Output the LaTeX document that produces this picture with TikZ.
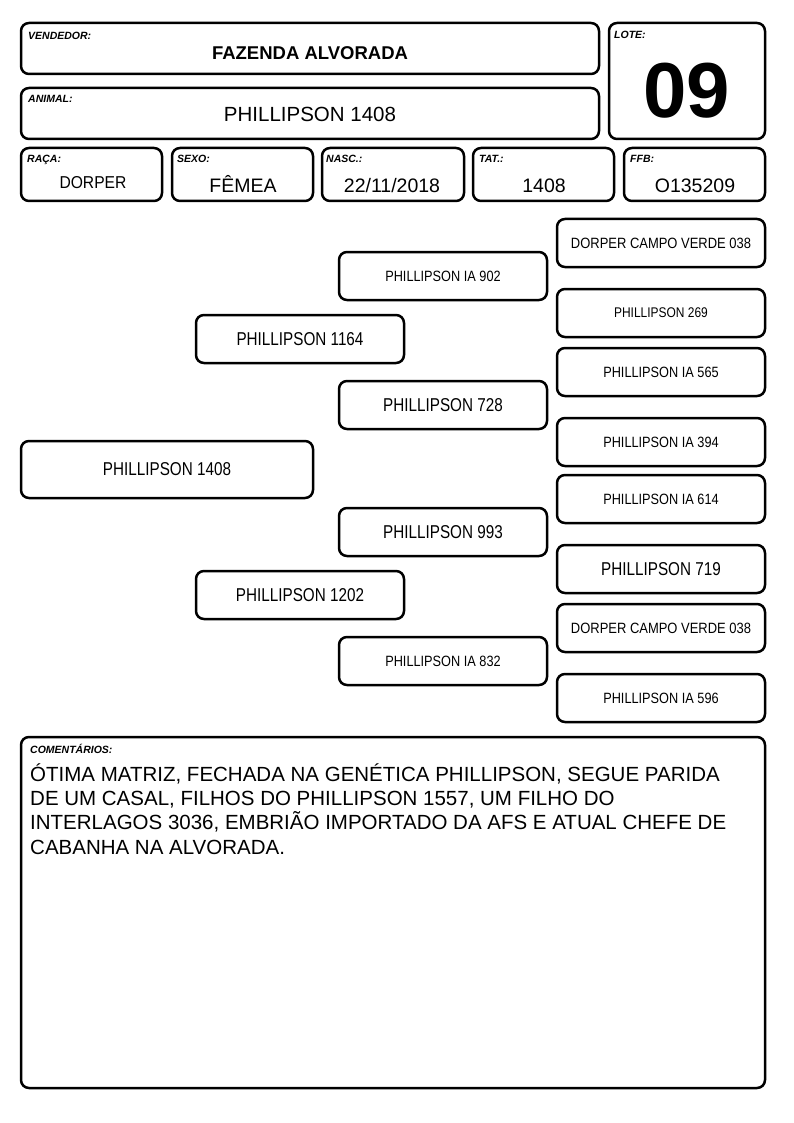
\documentclass[tikz,border=0pt]{standalone}
\usepackage{fontspec}
\usepackage{graphicx}
\setmainfont{Liberation Sans}
\newcommand\cz[2]{\scalebox{#1}[1]{#2}}
\newcommand\bx[6]{\node[box, minimum width={(#4-#2)*1pt}, minimum height={(#5-#3)*1pt}] (#1) at ({(#2+#4)/2},{(#3+#5)/2}) {#6};}
\tikzset{
  box/.style={draw, line width=2.5pt, rounded corners=8pt, inner sep=0pt, fill=white},
  lab/.style={anchor=base west, inner sep=0pt, font=\fontsize{10.5}{12}\selectfont\bfseries\itshape},
  val/.style={anchor=base, inner sep=0pt, font=\fontsize{19.5}{22}\selectfont},
  pbig/.style={font=\fontsize{18.6}{20}\selectfont},
  psml/.style={font=\fontsize{14.9}{16}\selectfont},
  cline/.style={anchor=base west, inner sep=0pt, font=\fontsize{20.5}{24}\selectfont}
}
\begin{document}
\begin{tikzpicture}[x=1pt,y=-1pt]
\useasboundingbox[fill=white] (0,0) rectangle (794,1123);
% header boxes
\bx{vend}{21}{23}{599}{74}{}
\bx{anim}{21}{88}{599}{139}{}
\bx{lote}{609}{23}{765}{139}{}
\bx{raca}{21}{148}{162}{201}{}
\bx{sexo}{172}{148}{313}{201}{}
\bx{nasc}{322}{148}{464}{201}{}
\bx{tat}{473}{148}{614}{201}{}
\bx{ffb}{624}{148}{765}{201}{}
% header labels
\node[lab] (lvend) at (28,40) {VENDEDOR:};
\node[anchor=base, inner sep=0pt, font=\fontsize{18.5}{20}\selectfont\bfseries] (tvend) at (310,60) {FAZENDA ALVORADA};
\node[lab] (lanim) at (28,103) {ANIMAL:};
\node[anchor=base, inner sep=0pt, font=\fontsize{20.5}{22}\selectfont] (tanim) at (310,122) {PHILLIPSON 1408};
\node[lab] (llote) at (614,39) {LOTE:};
\node[anchor=base, inner sep=0pt, font=\fontsize{78}{80}\selectfont\bfseries] (tlote) at (687,118) {09};
\node[lab] (lraca) at (27,163) {RAÇA:};
\node[lab] (lsexo) at (177,163) {SEXO:};
\node[lab] (lnasc) at (326,163) {NASC.:};
\node[lab] (ltat) at (479,163) {TAT.:};
\node[lab] (lffb) at (630,163) {FFB:};
\node[val, font=\fontsize{17.2}{20}\selectfont] (vraca) at (93,189) {\cz{0.91}{DORPER}};
\node[val] (vsexo) at (243,193) {FÊMEA};
\node[val] (vnasc) at (392,193) {22/11/2018};
\node[val] (vtat) at (544,193) {1408};
\node[val] (vffb) at (695,193) {O135209};
% pedigree
\bx{p0}{21}{441}{313}{498}{\cz{0.82}{\fontsize{18.6}{20}\selectfont PHILLIPSON 1408}}
\bx{p1}{196}{315}{404}{363}{\cz{0.82}{\fontsize{18.6}{20}\selectfont PHILLIPSON 1164}}
\bx{p2}{196}{571}{404}{619}{\cz{0.82}{\fontsize{18.6}{20}\selectfont PHILLIPSON 1202}}
\bx{g1}{339}{252}{547}{300}{\cz{0.855}{\fontsize{14.9}{16}\selectfont PHILLIPSON IA 902}}
\bx{g2}{339}{381}{547}{429}{\cz{0.82}{\fontsize{18.6}{20}\selectfont PHILLIPSON 728}}
\bx{g3}{339}{508}{547}{556}{\cz{0.82}{\fontsize{18.6}{20}\selectfont PHILLIPSON 993}}
\bx{g4}{339}{637}{547}{685}{\cz{0.855}{\fontsize{14.9}{16}\selectfont PHILLIPSON IA 832}}
\bx{r1}{557}{219}{765}{267}{\cz{0.87}{\fontsize{14.9}{16}\selectfont DORPER CAMPO VERDE 038}}
\bx{r2}{557}{289}{765}{337}{\cz{0.855}{\fontsize{14}{16}\selectfont PHILLIPSON 269}}
\bx{r3}{557}{348}{765}{396}{\cz{0.855}{\fontsize{14.9}{16}\selectfont PHILLIPSON IA 565}}
\bx{r4}{557}{418}{765}{466}{\cz{0.855}{\fontsize{14.9}{16}\selectfont PHILLIPSON IA 394}}
\bx{r5}{557}{475}{765}{523}{\cz{0.855}{\fontsize{14.9}{16}\selectfont PHILLIPSON IA 614}}
\bx{r6}{557}{545}{765}{593}{\cz{0.82}{\fontsize{18.6}{20}\selectfont PHILLIPSON 719}}
\bx{r7}{557}{604}{765}{652}{\cz{0.87}{\fontsize{14.9}{16}\selectfont DORPER CAMPO VERDE 038}}
\bx{r8}{557}{674}{765}{722}{\cz{0.855}{\fontsize{14.9}{16}\selectfont PHILLIPSON IA 596}}
% comments
\bx{com}{21}{737}{765}{1088}{}
\node[lab] (lcom) at (30,753) {COMENTÁRIOS:};
\node[cline] (c1) at (30,781) {ÓTIMA MATRIZ, FECHADA NA GENÉTICA PHILLIPSON, SEGUE PARIDA};
\node[cline] (c2) at (30,805.4) {DE UM CASAL, FILHOS DO PHILLIPSON 1557, UM FILHO DO};
\node[cline] (c3) at (30,829.8) {INTERLAGOS 3036, EMBRIÃO IMPORTADO DA AFS E ATUAL CHEFE DE};
\node[cline] (c4) at (30,854.2) {CABANHA NA ALVORADA.};
\end{tikzpicture}
\end{document}
